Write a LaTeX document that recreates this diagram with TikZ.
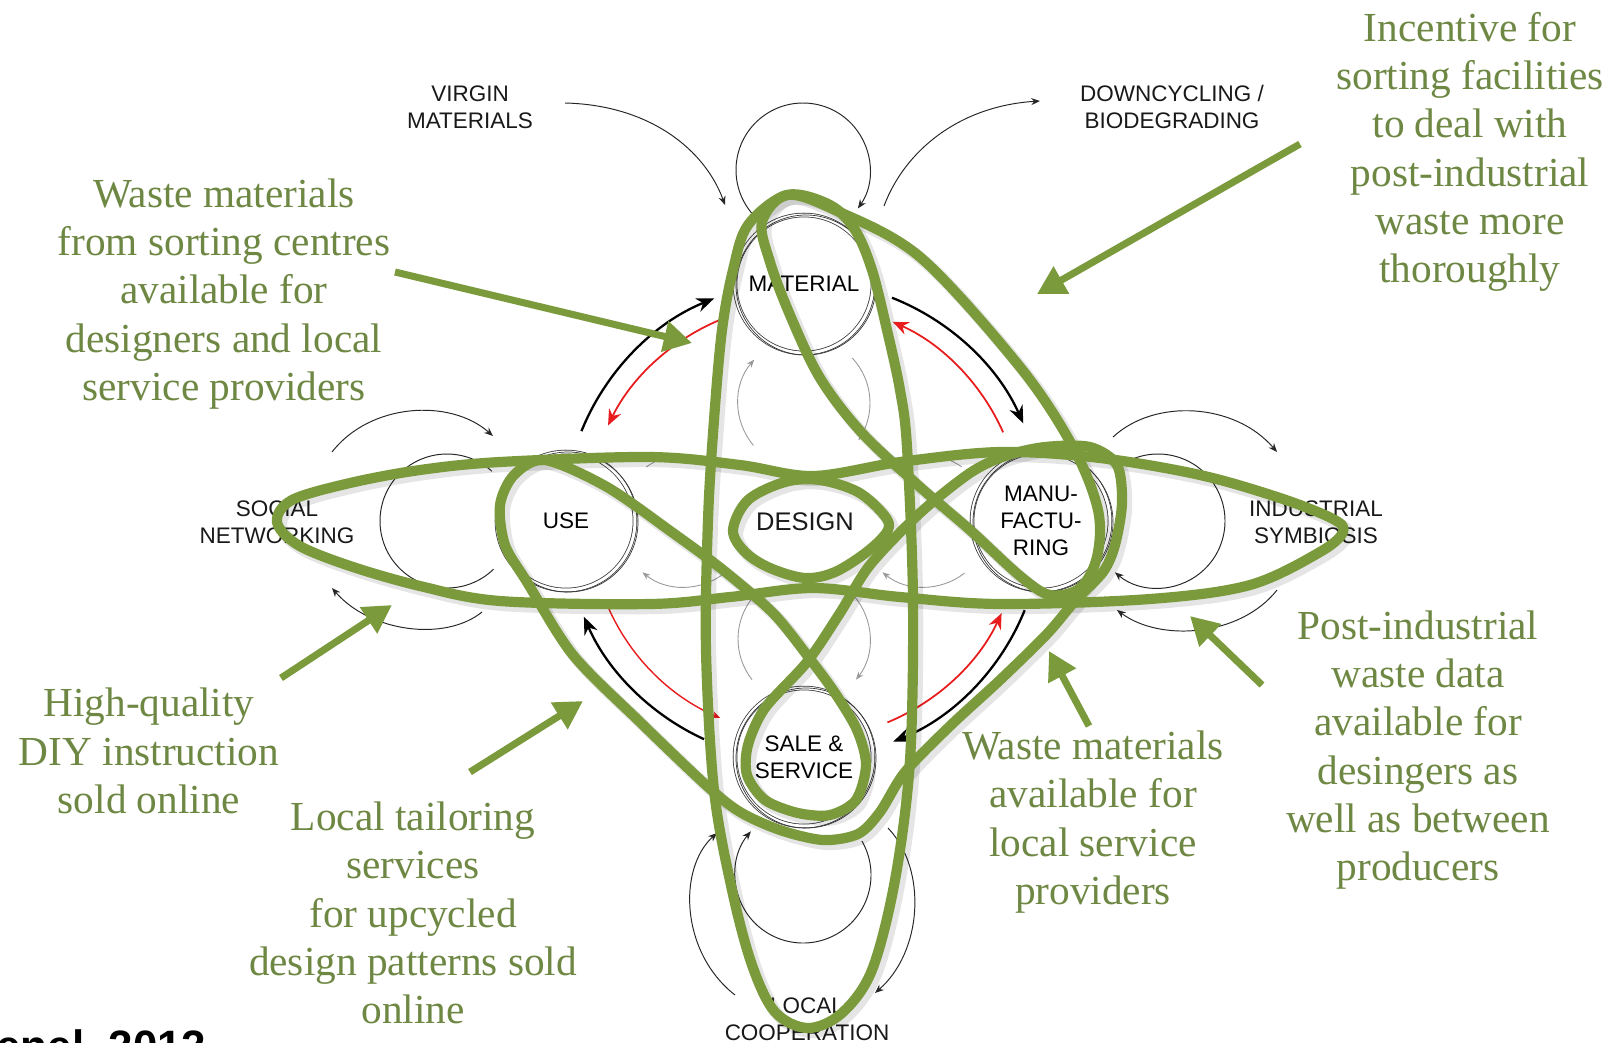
\documentclass[tikz,border=0pt]{standalone}
\usepackage{fontspec}
\setmainfont{Liberation Serif}
\newfontfamily\labelfont{Liberation Sans}
\usetikzlibrary{arrows.meta,calc}
\definecolor{gline}{RGB}{122,154,60}
\definecolor{gtext}{RGB}{110,136,68}
\definecolor{cline}{RGB}{55,55,55}
\definecolor{rline}{RGB}{232,28,28}
\begin{document}
\begin{tikzpicture}[x=0.02cm,y=-0.02cm,
  lbl/.style={font=\labelfont\fontsize{12.8}{15.2}\selectfont, align=center, text=black!90, inner sep=0pt},
  mainring/.style={circle, draw=cline, double, double distance=1.7pt, line width=0.45pt, minimum size=2.76cm, inner sep=0pt, align=center, font=\labelfont\fontsize{12.8}{15.2}\selectfont},
  gtxt/.style={font=\fontsize{23.5}{27.5}\selectfont, text=gtext, align=center, inner sep=0pt},
  blkarr/.style={draw=black, line width=1.3pt, -{Stealth[length=10pt,width=8pt]}},
  redarr/.style={draw=rline, line width=1pt, -{Stealth[length=9pt,width=7.5pt]}},
  redsmall/.style={draw=rline, line width=0.8pt, -{Stealth[length=5pt,width=4pt]}},
  thinarr/.style={draw=black!85, line width=0.55pt, -{Stealth[length=5pt,width=4pt]}},
  thinline/.style={draw=black!85, line width=0.55pt},
  grayline/.style={draw=black!40, line width=0.5pt},
  grayarr/.style={draw=black!40, line width=0.5pt, -{Stealth[length=4.5pt,width=3.5pt]}},
  gstroke/.style={draw=gline, line width=5.8pt, line cap=round, line join=round},
  gshadow/.style={draw=black, opacity=0.10, line width=7pt, line cap=round, line join=round},
  garrow/.style={draw=gline, line width=4pt, -{Triangle[length=16pt,width=17pt]}}
]
\useasboundingbox (0,0) rectangle (1612,1042);
\fill[white] (0,0) rectangle (1612,1042);

% ---------- centre and main rings ----------
\coordinate (C) at (804,521);
\node[mainring] (mat) at (804,284) {MATERIAL};
\node[mainring] (use) at (566,521) {USE};
\node[mainring] (manu) at (1041,521) {MANU-\\FACTU-\\RING};
\node[mainring] (sale) at (804,757) {SALE \&\\SERVICE};
\foreach \n in {mat,use,manu,sale}{
  \draw[draw=cline, line width=0.4pt] ($(\n.center)+(2,1)$) circle[radius=70];
}
\node[lbl, font=\labelfont\fontsize{14.5}{17}\selectfont] (design) at (805,522) {DESIGN};

% ---------- outer labels ----------
\node[lbl] (virgin) at (470,107) {VIRGIN\\MATERIALS};
\node[lbl] (down) at (1172,107) {DOWNCYCLING /\\BIODEGRADING};
\node[lbl] (social) at (277,522) {SOCIAL\\NETWORKING};
\node[lbl] (indus) at (1316,522) {INDUSTRIAL\\SYMBIOSIS};
\node[lbl] (local) at (807,1019) {LOCAL\\COOPERATION};

% ---------- outer loops ----------
\draw[thinarr] (803,170) ++(140:67) arc[start angle=140,end angle=395,radius=67];
\draw[thinarr] (803,875) ++(-30:68) arc[start angle=-30,end angle=220,radius=68];
\draw[thinarr] (1158,521) ++(230:67) arc[start angle=230,end angle=490,radius=67];
\draw[thinline] (447,521) ++(46:67) arc[start angle=46,end angle=312,radius=67];

% ---------- outer curved arrows ----------
\coordinate (vs) at (565,103); \coordinate (vt) at (725,205);
\draw[thinarr] (vs) .. controls (650,105) and (705,150) .. (vt);
\coordinate (ds) at (884,206); \coordinate (dt) at (1040,101);
\draw[thinarr] (ds) .. controls (905,150) and (960,106) .. (dt);
\coordinate (su1) at (332,452); \coordinate (su2) at (493,436);
\draw[thinarr] (su1) .. controls (370,403) and (450,398) .. (su2);
\coordinate (sl1) at (482,612); \coordinate (sl2) at (332,588);
\draw[thinarr] (sl1) .. controls (445,642) and (370,632) .. (sl2);
\coordinate (iu1) at (1113,437); \coordinate (iu2) at (1277,452);
\draw[thinarr] (iu1) .. controls (1155,398) and (1235,403) .. (iu2);
\coordinate (il1) at (1277,590); \coordinate (il2) at (1117,610);
\draw[thinarr] (il1) .. controls (1240,637) and (1160,642) .. (il2);
\coordinate (lc1) at (735,995); \coordinate (lc2) at (717,833);
\draw[thinarr] (lc1) .. controls (680,952) and (678,868) .. (lc2);
\coordinate (lc3) at (888,828); \coordinate (lc4) at (875,993);
\draw[thinarr] (lc3) .. controls (928,870) and (922,952) .. (lc4);

% ---------- inner grey loops ----------
\draw[grayarr] (804,403) ++(140:66) arc[start angle=140,end angle=221,radius=66];
\draw[grayline] (804,403) ++(-43:66) arc[start angle=-43,end angle=34,radius=66];
\draw[grayarr] (924,521) ++(52:66) arc[start angle=52,end angle=129,radius=66];
\draw[grayline] (924,521) ++(-125:66) arc[start angle=-125,end angle=-55,radius=66];
\draw[grayarr] (804,639) ++(-41:66) arc[start angle=-41,end angle=38,radius=66];
\draw[grayline] (804,639) ++(142:66) arc[start angle=142,end angle=219,radius=66];
\draw[grayarr] (684,521) ++(51:66) arc[start angle=51,end angle=129,radius=66];
\draw[grayline] (684,521) ++(-125:66) arc[start angle=-125,end angle=-55,radius=66];

% ---------- black and red cycle arrows ----------
\draw[blkarr] (C) ++(-158:240) arc[start angle=-158,end angle=-112,radius=240];
\draw[redarr] (C) ++(-112:218) arc[start angle=-112,end angle=-154,radius=218];
\draw[blkarr] (C) ++(-68.5:240) arc[start angle=-68.5,end angle=-24,radius=240];
\draw[redarr] (C) ++(-24:218) arc[start angle=-24,end angle=-66,radius=218];
\draw[blkarr] (C) ++(22:238) arc[start angle=22,end angle=68,radius=238];
\draw[redarr] (C) ++(67.5:218) arc[start angle=67.5,end angle=25,radius=218];
\draw[blkarr] (C) ++(114.6:240) arc[start angle=114.6,end angle=156.5,radius=240];
\draw[redsmall] (C) ++(157.6:214) arc[start angle=157.6,end angle=113,radius=214];

% ---------- green scribble ----------
\foreach \st/\d in {gshadow/4,gstroke/0}{
\begin{scope}[shift={(\d,\d)}]
% horizontal lens
\draw[\st] plot[smooth cycle, tension=0.55] coordinates {
 (277,522) (292,500) (350,483) (420,470) (500,462) (650,457) (740,465) (813,476)
 (900,462) (1000,452) (1100,458) (1200,475) (1280,498) (1333,519) (1343,532)
 (1320,552) (1250,585) (1150,599) (1000,604) (900,597) (813,588) (730,597)
 (650,604) (500,601) (420,586) (350,566) (298,545)};
% vertical lens
\draw[\st] plot[smooth cycle, tension=0.55] coordinates {
 (787,195) (830,205) (855,230) (872,270) (887,330) (900,390) (907,447) (913,600)
 (910,760) (895,880) (872,970) (842,1013) (808,1028) (775,1012) (752,965)
 (732,890) (714,790) (706,650) (708,520) (714,420) (722,330) (733,270) (748,225)};
% teardrop material -> manufacturing
\draw[\st] plot[smooth cycle, tension=0.55] coordinates {
 (787,195) (835,210) (920,257) (1020,367) (1073,447) (1098,510) (1097,557)
 (1080,588) (1050,595) (1020,576) (970,530) (920,487) (862,433) (820,378)
 (790,315) (770,262) (762,222)};
% pretzel use - sale - manufacturing
\draw[\st] plot[smooth cycle, tension=0.5] coordinates {
 (545,460) (607,487) (673,533) (723,570) (773,613) (807,655) (835,693)
 (857,730) (866,765) (856,800) (830,815) (798,813) (765,800) (747,775)
 (748,745) (765,708) (807,662) (840,613) (870,565) (920,513) (970,473)
 (1005,456) (1045,447) (1090,447) (1117,465) (1122,503) (1115,545) (1103,572)
 (1075,601) (1047,634) (1000,680) (950,726) (905,772) (880,812) (858,834)
 (823,840) (780,830) (740,812) (707,786) (640,722) (573,655) (527,582)
 (505,545) (500,505) (514,475)};
% design loop
\draw[\st] plot[smooth cycle, tension=0.55] coordinates {
 (733,530) (748,500) (785,482) (820,480) (858,492) (884,515) (888,530)
 (868,551) (835,572) (805,578) (770,568) (745,552)};
\end{scope}
}

% ---------- green pointers ----------
\coordinate (p1s) at (395,272); \coordinate (p1t) at (692,343);
\coordinate (p2s) at (1300,144); \coordinate (p2t) at (1037,294);
\coordinate (p3s) at (281,678); \coordinate (p3t) at (392,605);
\coordinate (p4s) at (470,772); \coordinate (p4t) at (583,701);
\coordinate (p5s) at (1089,726); \coordinate (p5t) at (1049,651);
\coordinate (p6s) at (1262,685); \coordinate (p6t) at (1190,616);
\foreach \i in {1,...,6}{ \draw[garrow] (p\i s) -- (p\i t); }

% ---------- green annotations ----------
\node[gtxt] (t1) at (224,294) {Waste materials\\from sorting centres\\available for\\designers and local\\service providers};
\node[gtxt] (t2) at (1470,152) {Incentive for\\sorting facilities\\to deal with\\post-industrial\\waste more\\thoroughly};
\node[gtxt] (t3) at (149,751) {High-quality\\DIY instruction\\sold online};
\node[gtxt] (t4) at (413,913) {Local tailoring\\services\\for upcycled\\design patterns sold\\online};
\node[gtxt] (t5) at (1093,822) {Waste materials\\available for\\local service\\providers};
\node[gtxt] (t6) at (1418,750) {Post-industrial\\waste data\\available for\\desingers as\\well as between\\producers};

% ---------- citation (cut by the lower edge) ----------
\node[font=\labelfont\bfseries\fontsize{25}{30}\selectfont, anchor=base west, inner sep=0pt] (cite) at (-4,1061) {enel, 2012};
\end{tikzpicture}
\end{document}
